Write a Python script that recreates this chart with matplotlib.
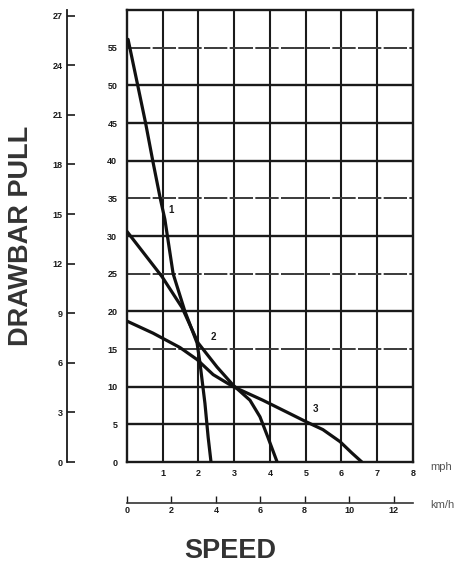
import matplotlib
matplotlib.use("Agg")
import matplotlib.pyplot as plt
import numpy as np

plt.rcParams['font.family'] = ['Liberation Sans', 'DejaVu Sans']

# Drawbar pull (kN) versus speed (mph) for gears 1-3
gear1_mph = [0.03, 0.30, 0.52, 0.72, 0.93, 1.06, 1.29, 1.62, 1.96, 2.04, 2.18, 2.27, 2.35]
gear1_kn = [56.1, 50.0, 45.0, 40.0, 35.0, 32.2, 25.0, 20.0, 15.8, 13.2, 7.8, 3.3, 0.0]

gear2_mph = [0.0, 0.98, 1.54, 1.99, 2.52, 2.97, 3.44, 3.72, 3.94, 4.2]
gear2_kn = [30.6, 24.6, 20.5, 15.8, 12.6, 10.2, 8.2, 6.0, 3.3, 0.0]

gear3_mph = [0.0, 0.73, 1.48, 1.96, 2.41, 2.97, 3.8, 4.48, 5.03, 5.48, 5.96, 6.29, 6.57]
gear3_kn = [18.7, 17.1, 15.2, 13.6, 11.6, 10.0, 8.2, 6.6, 5.3, 4.3, 2.7, 1.2, 0.0]

gear_labels = ["1", "2", "3"]
gear_label_pos = [(1.15, 33.1), (2.33, 16.2), (5.2, 6.7)]

kn_ticks = [0, 5, 10, 15, 20, 25, 30, 35, 40, 45, 50, 55]
mph_ticks = [1, 2, 3, 4, 5, 6, 7, 8]
kmh_ticks = [0, 2, 4, 6, 8, 10, 12]
klbf_ticks = [0, 3, 6, 9, 12, 15, 18, 21, 24, 27]

KN_PER_OUTER = 2.194   # outer scale unit in kN
KMH_PER_MPH = 1.609

ink = "#1a1a1a"
fig = plt.figure(figsize=(4.76, 5.65), dpi=100)
ax = fig.add_axes([0.2668, 0.1823, 0.6008, 0.8])
ax.set_xlim(0, 8)
ax.set_ylim(0, 60)

# grid
for v in [1, 2, 3, 4, 5, 6, 7]:
    ax.axvline(v, color=ink, lw=1.5, zorder=1)
for v in [5, 10, 15, 20, 25, 30, 35, 40, 45, 50, 55]:
    if v in (15, 25, 35, 55):
        ax.axhline(v, color="#3a3a3a", lw=1.4, ls=(0, (12, 1.2)), zorder=1)
    else:
        ax.axhline(v, color=ink, lw=1.7, zorder=1)
for s in ax.spines.values():
    s.set_color(ink)
    s.set_linewidth(1.7)

# curves
for xs, ys in [(gear1_mph, gear1_kn), (gear2_mph, gear2_kn), (gear3_mph, gear3_kn)]:
    ax.plot(xs, ys, color="#111111", lw=2.3, solid_capstyle="round",
            solid_joinstyle="round", zorder=3)
for lab, (x, y) in zip(gear_labels, gear_label_pos):
    ax.text(x, y, lab, fontsize=7, fontweight="bold", color=ink, zorder=4)

# inner kN scale and mph scale
ax.set_yticks(kn_ticks)
ax.set_yticklabels([str(t) for t in kn_ticks])
ax.set_xticks(mph_ticks)
ax.set_xticklabels([str(t) for t in mph_ticks])
ax.tick_params(axis="y", length=0, pad=7, labelsize=6.5, colors=ink)
ax.tick_params(axis="x", length=0, pad=5, labelsize=6.5, colors=ink)
for t in ax.get_xticklabels() + ax.get_yticklabels():
    t.set_fontweight("bold")

# outer pull scale
sec_y = ax.secondary_yaxis(-0.21, functions=(lambda y: np.asarray(y) / KN_PER_OUTER,
                                            lambda v: np.asarray(v) * KN_PER_OUTER))
sec_y.set_yticks(klbf_ticks)
sec_y.set_yticklabels([str(t) for t in klbf_ticks])
sec_y.tick_params(axis="y", direction="in", length=6, width=1.2, pad=3, labelsize=6.5, colors=ink)
sec_y.spines["left"].set_linewidth(1.3)
sec_y.spines["left"].set_color(ink)
for t in sec_y.get_yticklabels():
    t.set_fontweight("bold")

# km/h scale
sec_x = ax.secondary_xaxis(-0.091, functions=(lambda x: np.asarray(x) * KMH_PER_MPH,
                                             lambda k: np.asarray(k) / KMH_PER_MPH))
sec_x.set_xticks(kmh_ticks)
sec_x.set_xticklabels([str(t) for t in kmh_ticks])
sec_x.tick_params(axis="x", direction="in", length=5, width=1.0, pad=2, labelsize=6.5, colors=ink)
sec_x.spines["bottom"].set_linewidth(1.2)
sec_x.spines["bottom"].set_color("#333333")
for t in sec_x.get_xticklabels():
    t.set_fontweight("bold")

fig.text(430 / 476, 1 - 467 / 565, "mph", fontsize=8, color="#555555", va="center", ha="left")
fig.text(430 / 476, 1 - 505 / 565, "km/h", fontsize=8, color="#555555", va="center", ha="left")

fig.text(21 / 476, 1 - 236 / 565, "DRAWBAR PULL", rotation=90, fontsize=19.5,
         fontweight="bold", color="#333333", ha="center", va="center")
fig.text(230 / 476, 1 - 551 / 565, "SPEED", fontsize=19.5, fontweight="bold",
         color="#333333", ha="center", va="center")

fig.savefig("out.png", dpi=100, facecolor="white")
